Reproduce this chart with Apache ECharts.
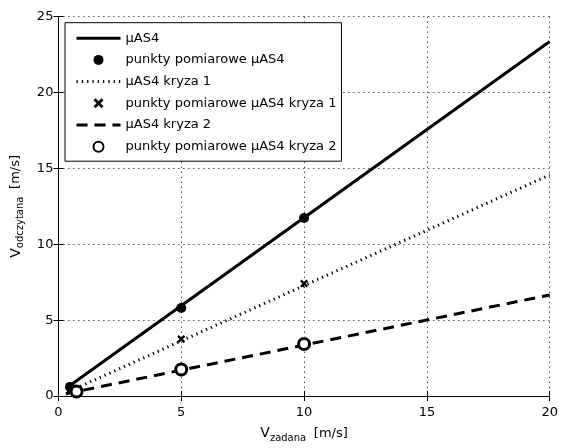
<!DOCTYPE html>
<html>
<head>
<meta charset="utf-8">
<script src="https://cdn.jsdelivr.net/npm/echarts@6/dist/echarts.min.js"></script>
<style>html,body{margin:0;padding:0;background:#fff}#c{width:561px;height:448px}</style>
</head>
<body>
<div id="c"></div>
<script>
// Names
const seriesNames = ['\u03bcAS4', 'punkty pomiarowe \u03bcAS4', '\u03bcAS4 kryza 1', 'punkty pomiarowe \u03bcAS4 kryza 1', '\u03bcAS4 kryza 2', 'punkty pomiarowe \u03bcAS4 kryza 2'];
// Fitted lines (endpoints)
const line1X = [0.3, 20];
const line1Y = [0.5, 23.36];
const line2X = [0.5, 20];
const line2Y = [0.35, 14.57];
const line3X = [0.3, 20];
const line3Y = [0.15, 6.66];
// Measured points
const pts1X = [0.47, 5, 10];
const pts1Y = [0.6, 5.8, 11.73];
const pts2X = [0.5, 5, 10];
const pts2Y = [0.45, 3.75, 7.41];
const pts3X = [0.74, 5, 10];
const pts3Y = [0.3, 1.75, 3.43];
// Axis ticks
const xTicks = [0, 5, 10, 15, 20];
const yTicks = [0, 5, 10, 15, 20, 25];

const zip = (a, b) => a.map((v, i) => [v, b[i]]);
const FONT = 'DejaVu Sans';
const xPath = 'path://M2,0L5,3L8,0L10,2L7,5L10,8L8,10L5,7L2,10L0,8L3,5L0,2Z';

const chart = echarts.init(document.getElementById('c'), null, {renderer: 'canvas'});
const baseAxis = {
  axisLine: {show: true, lineStyle: {color: '#000', width: 1}},
  axisTick: {show: true, inside: true, length: 5, lineStyle: {color: '#000'}},
  axisLabel: {color: '#000', fontFamily: FONT, fontSize: 13},
};
const richName = {
  v: {fontSize: 14, fontFamily: FONT, color: '#000'},
  s: {fontSize: 10, fontFamily: FONT, color: '#000', verticalAlign: 'bottom', padding: [9, 0, 0, 0]},
  u: {fontSize: 13, fontFamily: FONT, color: '#000'}
};
const hideSym = {color: 'transparent', borderWidth: 0, opacity: 0};
chart.setOption({
  animation: false,
  backgroundColor: '#fff',
  textStyle: {fontFamily: FONT},
  grid: {left: 58.4, right: 9.3, top: 16.7, bottom: 43.3, containLabel: false, show: false},
  legend: {
    orient: 'vertical', left: 65, top: 22.7,
    padding: [9, 5, 8, 10],
    itemWidth: 44, itemHeight: 10, itemGap: 8.7,
    backgroundColor: '#fff', borderColor: '#000', borderWidth: 1,
    lineStyle: {width: 3},
    textStyle: {color: '#000', fontFamily: FONT, fontSize: 13},
    data: seriesNames.map((n, i) => i % 2 === 0 ? {name: n, itemStyle: hideSym} : {name: n})
  },
  xAxis: [
    Object.assign({}, baseAxis, {
      type: 'value', min: 0, max: 20, interval: 5, position: 'bottom',
      axisLabel: Object.assign({}, baseAxis.axisLabel, {margin: 10}),
      splitLine: {show: true, lineStyle: {color: '#000', type: [1, 4], width: 1}},
      name: '{v|V}{s|zadana}  {u|[m/s]}', nameLocation: 'middle', nameGap: 28,
      nameTextStyle: {rich: richName}
    }),
    Object.assign({}, baseAxis, {
      type: 'value', min: 0, max: 20, interval: 5, position: 'top',
      axisLabel: {show: false}, splitLine: {show: false}
    })
  ],
  yAxis: [
    Object.assign({}, baseAxis, {
      type: 'value', min: 0, max: 25, interval: 5, position: 'left',
      axisLabel: Object.assign({}, baseAxis.axisLabel, {margin: 5}),
      splitLine: {show: true, lineStyle: {color: '#000', type: [1, 4], width: 1}},
      name: '{v|V}{s|odczytana}  {u|[m/s]}', nameLocation: 'middle', nameGap: 33, nameRotate: 90,
      nameTextStyle: {rich: richName}
    }),
    Object.assign({}, baseAxis, {
      type: 'value', min: 0, max: 25, interval: 5, position: 'right',
      axisLabel: {show: false}, splitLine: {show: false}
    })
  ],
  series: [
    {name: seriesNames[0], type: 'line', data: zip(line1X, line1Y), symbol: 'none', lineStyle: {color: '#000', width: 3}, itemStyle: {color: '#000'}, z: 3},
    {name: seriesNames[1], type: 'scatter', data: zip(pts1X, pts1Y), symbol: 'circle', symbolSize: 10, itemStyle: {color: '#000', opacity: 1}, z: 5},
    {name: seriesNames[2], type: 'line', data: zip(line2X, line2Y), symbol: 'none', lineStyle: {color: '#000', width: 3, type: [1.3, 4]}, itemStyle: {color: '#000'}, z: 3},
    {name: seriesNames[3], type: 'scatter', data: zip(pts2X, pts2Y), symbol: xPath, symbolSize: 8, itemStyle: {color: '#000', opacity: 1}, z: 5},
    {name: seriesNames[4], type: 'line', data: zip(line3X, line3Y), symbol: 'none', lineStyle: {color: '#000', width: 3, type: [11, 7]}, itemStyle: {color: '#000'}, z: 3},
    {name: seriesNames[5], type: 'scatter', data: zip(pts3X, pts3Y), symbol: 'circle', symbolSize: 11, itemStyle: {color: '#fff', borderColor: '#000', borderWidth: 3, opacity: 1}, z: 5}
  ]
});
</script>
</body>
</html>
